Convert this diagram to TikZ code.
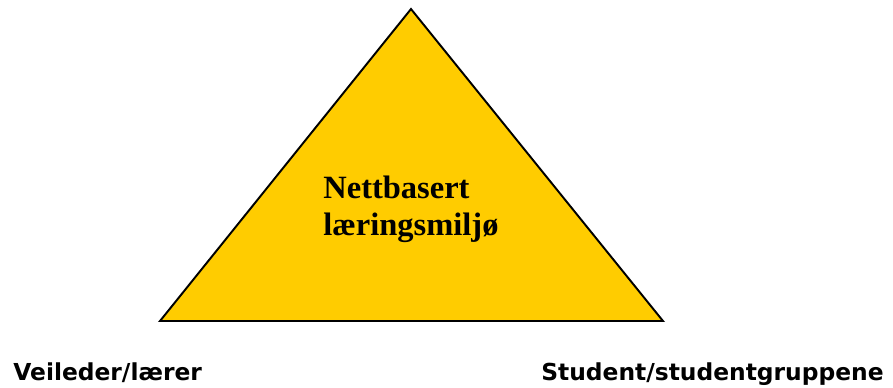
\documentclass[tikz,border=0pt]{standalone}
\usepackage{fontspec}
\setmainfont{Liberation Serif}
\newfontfamily\cornerfont{DejaVu Sans}
\usepackage{tikz}
\usetikzlibrary{positioning}
\definecolor{envgold}{RGB}{255,204,0}

\tikzset{
 cornerlabel/.style={anchor=base west,inner sep=0pt,font=\cornerfont\bfseries\fontsize{13.3}{16}\selectfont},
 centrelabel/.style={anchor=base west,inner sep=0pt,align=left,font=\bfseries\fontsize{18.5}{21}\selectfont}
}

\begin{document}
\begin{tikzpicture}[x=0.02cm,y=-0.02cm,line join=miter]
\useasboundingbox (0,0) rectangle (893,387);
% the triangle
\coordinate (apex) at (411,9);
\coordinate (baseL) at (160,321);
\coordinate (baseR) at (663,321);
\filldraw[fill=envgold,draw=black,line width=1.1pt] (apex)--(baseL)--(baseR)--cycle;
% text in the middle
\node[centrelabel] (env) at (323,235) {Nettbasert\\læringsmiljø};
% the two corners
\node[cornerlabel] (teacher) at (13,380) {Veileder/lærer};
\node[cornerlabel] (students) at (541,380) {Student/studentgruppene};
\end{tikzpicture}
\end{document}
